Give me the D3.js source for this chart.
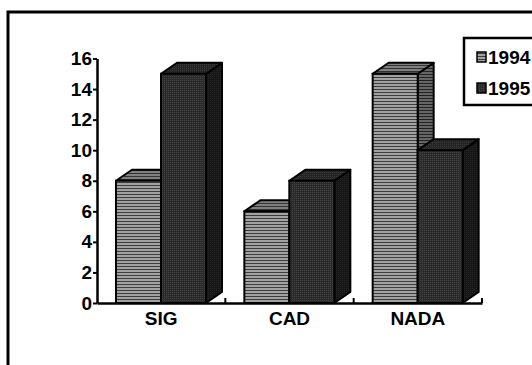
<!DOCTYPE html>
<html>
<head>
<meta charset="utf-8">
<script src="https://cdn.jsdelivr.net/npm/d3@7"></script>
<style>
  body { margin: 0; background: #fff; }
  svg text { font-family: "Liberation Sans", Arial, sans-serif; font-weight: bold; fill: #000; }
</style>
</head>
<body>
<div id="chart"></div>
<script>
var categories = ["SIG", "CAD", "NADA"];
var series = ["1994", "1995"];
var values1994 = [8, 6, 15];
var values1995 = [15, 8, 10];
var yTicks = [0, 2, 4, 6, 8, 10, 12, 14, 16];

var width = 532, height = 365;
var depth = { dx: 16, dy: 11 };
var fontSize = "19px";

var svg = d3.select("#chart")
    .append("svg")
    .attr("width", width)
    .attr("height", height);

// patterns for the old-style hatched fills
var defs = svg.append("defs");
function stripes(id, light, dark) {
    var p = defs.append("pattern")
        .attr("id", id)
        .attr("patternUnits", "userSpaceOnUse")
        .attr("width", 4).attr("height", 3);
    p.append("rect").attr("width", 4).attr("height", 3).attr("fill", light);
    p.append("rect").attr("y", 2).attr("width", 4).attr("height", 1).attr("fill", dark);
}
function dots(id, base, dot) {
    var p = defs.append("pattern")
        .attr("id", id)
        .attr("patternUnits", "userSpaceOnUse")
        .attr("width", 2).attr("height", 2);
    p.append("rect").attr("width", 2).attr("height", 2).attr("fill", base);
    p.append("rect").attr("width", 1).attr("height", 1).attr("fill", dot);
}
stripes("s94front", "#a2a2a2", "#3c3c3c");
stripes("s94top", "#808080", "#333");
stripes("s94side", "#666", "#222");
dots("s95front", "#2a2a2a", "#444");
dots("s95top", "#242424", "#3a3a3a");
dots("s95side", "#161616", "#262626");

var fills = {
    "1994": { front: "url(#s94front)", top: "url(#s94top)", side: "url(#s94side)" },
    "1995": { front: "url(#s95front)", top: "url(#s95top)", side: "url(#s95side)" }
};

// outer frame
svg.append("rect")
    .attr("x", 8).attr("y", 12)
    .attr("width", 600).attr("height", 400)
    .attr("fill", "none")
    .attr("stroke", "#000")
    .attr("stroke-width", 3);

var x = d3.scaleBand()
    .domain(categories)
    .range([97, 482]);

var xs = d3.scaleBand()
    .domain(series)
    .range([19, 109]);

var y = d3.scaleLinear()
    .domain([0, 16])
    .range([303, 58.5]);

var rows = [];
categories.forEach(function (c, i) {
    rows.push({ cat: c, s: "1994", v: values1994[i] });
    rows.push({ cat: c, s: "1995", v: values1995[i] });
});

var bars = svg.append("g").attr("class", "bars");
rows.forEach(function (d) {
    var x0 = x(d.cat) + xs(d.s);
    var bw = xs.bandwidth();
    var yv = y(d.v), y0 = y(0);
    var g = bars.append("g");
    g.append("polygon")
        .attr("points", [[x0 + bw, yv], [x0 + bw + depth.dx, yv - depth.dy],
            [x0 + bw + depth.dx, y0 - depth.dy], [x0 + bw, y0]].join(" "))
        .attr("fill", fills[d.s].side)
        .attr("stroke", "#000").attr("stroke-width", 2).attr("stroke-linejoin", "round");
    g.append("polygon")
        .attr("points", [[x0, yv], [x0 + depth.dx, yv - depth.dy],
            [x0 + bw + depth.dx, yv - depth.dy], [x0 + bw, yv]].join(" "))
        .attr("fill", fills[d.s].top)
        .attr("stroke", "#000").attr("stroke-width", 2).attr("stroke-linejoin", "round");
    g.append("rect")
        .attr("x", x0).attr("y", yv)
        .attr("width", bw).attr("height", y0 - yv)
        .attr("fill", fills[d.s].front)
        .attr("stroke", "#000").attr("stroke-width", 2);
});

// y axis
var yAxis = svg.append("g")
    .attr("transform", "translate(97,0)")
    .call(d3.axisLeft(y).tickValues(yTicks).tickSize(4).tickSizeOuter(0).tickPadding(1));
yAxis.select(".domain").attr("stroke-width", 2.5);
yAxis.selectAll(".tick line").attr("stroke-width", 2);
yAxis.selectAll("text").style("font-size", fontSize).attr("fill", "#000");

// x axis
var xAxis = svg.append("g")
    .attr("transform", "translate(0," + y(0) + ")")
    .call(d3.axisBottom(x).tickSize(0).tickSizeOuter(0).tickPadding(9));
xAxis.select(".domain").attr("stroke-width", 2.5);
xAxis.selectAll("text").style("font-size", fontSize).attr("fill", "#000");
xAxis.selectAll(".sep")
    .data(categories)
    .enter()
    .append("line")
    .attr("x1", function (d) { return x(d) + x.bandwidth(); })
    .attr("x2", function (d) { return x(d) + x.bandwidth(); })
    .attr("y1", 0).attr("y2", -5)
    .attr("stroke", "#000").attr("stroke-width", 2);

// legend
var legend = svg.append("g").attr("transform", "translate(464,38)");
legend.append("rect")
    .attr("width", 120).attr("height", 67)
    .attr("fill", "#fff")
    .attr("stroke", "#000").attr("stroke-width", 2.5);
series.forEach(function (s, i) {
    var row = legend.append("g").attr("transform", "translate(13," + (19 + i * 31) + ")");
    row.append("rect")
        .attr("x", 0).attr("y", -5)
        .attr("width", 9).attr("height", 10)
        .attr("fill", fills[s].front)
        .attr("stroke", "#000").attr("stroke-width", 1.5);
    row.append("text")
        .attr("x", 11).attr("y", 0)
        .attr("dy", "0.36em")
        .style("font-size", fontSize)
        .text(s);
});
</script>
</body>
</html>
